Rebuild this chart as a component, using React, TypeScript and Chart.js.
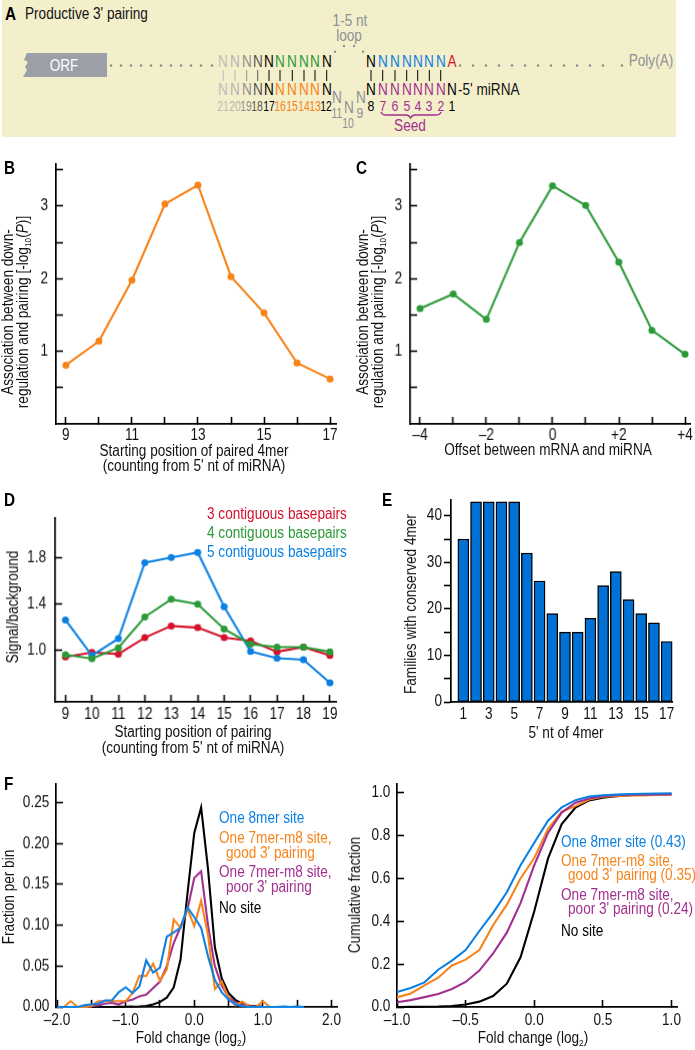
import React, { useEffect, useRef } from "react";
import { Chart, registerables } from "chart.js";

Chart.register(...registerables);

const FONT = "'Liberation Sans',Arial,sans-serif";
const NARROW = 0.85;
const ORANGE = "#f7841a";
const GREEN = "#2b9a38";
const BLUE = "#0c80e2";
const RED = "#d4122a";
const PURPLE = "#a2308f";

// Panel B
const bPositions = [9, 10, 11, 12, 13, 14, 15, 16, 17];
const bAssociation = [0.81, 1.14, 1.98, 3.03, 3.29, 2.03, 1.53, 0.84, 0.62];
const bXTicks = [9, 10, 11, 12, 13, 14, 15, 16, 17];
const bXLabels = [9, 11, 13, 15, 17];
const assocYTicks = [0.5, 1, 1.5, 2, 2.5, 3, 3.5];
const assocYLabels = [1, 2, 3];

// Panel C
const cOffsets = [-4, -3, -2, -1, 0, 1, 2, 3, 4];
const cAssociation = [1.59, 1.79, 1.44, 2.5, 3.28, 3.01, 2.23, 1.29, 0.96];
const cXLabels = [-4, -2, 0, 2, 4];

// Panel D
const dPositions = [9, 10, 11, 12, 13, 14, 15, 16, 17, 18, 19];
const dThree = [0.94, 0.98, 0.965, 1.108, 1.21, 1.195, 1.108, 1.08, 0.985, 1.026, 0.953];
const dFour = [0.96, 0.925, 1.02, 1.288, 1.442, 1.4, 1.183, 1.052, 1.026, 1.026, 0.985];
const dFive = [1.262, 0.953, 1.1, 1.76, 1.806, 1.85, 1.378, 0.988, 0.93, 0.916, 0.715];
const dYTicks = [1.0, 1.4, 1.8];

// Panel E
const eNt = [1, 2, 3, 4, 5, 6, 7, 8, 9, 10, 11, 12, 13, 14, 15, 16, 17];
const eFamilies = [35, 43, 43, 43, 43, 32, 26, 19, 15, 15, 18, 25, 28, 22, 19, 17, 13];
const eYTicks = [0, 5, 10, 15, 20, 25, 30, 35, 40];
const eYLabels = [0, 10, 20, 30, 40];
const eXLabels = [1, 3, 5, 7, 9, 11, 13, 15, 17];

// Panel F, left
const fBins = [-2, -1.9, -1.8, -1.7, -1.6, -1.5, -1.4, -1.3, -1.2, -1.1, -1, -0.9, -0.8, -0.7, -0.6, -0.5, -0.4, -0.3, -0.2, -0.1, 0, 0.1, 0.2, 0.3, 0.4, 0.5, 0.6, 0.7, 0.8, 0.9, 1, 1.1, 1.2, 1.3, 1.4, 1.5, 1.6];
const fEightmer = [0, 0, 0, 0, 0.002, 0.003, 0.004, 0.008, 0.008, 0.018, 0.024, 0.017, 0.025, 0.057, 0.042, 0.048, 0.086, 0.091, 0.097, 0.122, 0.11, 0.097, 0.062, 0.033, 0.018, 0.009, 0.003, 0.001, 0, 0, 0, 0, 0, 0.0005, 0, 0.0005, 0];
const fGood = [0, 0, 0.007, 0, 0, 0.001, 0.007, 0.007, 0.007, 0.007, 0.007, 0.017, 0.038, 0.038, 0.053, 0.032, 0.046, 0.107, 0.097, 0.12, 0.099, 0.13, 0.088, 0.022, 0.031, 0.011, 0.002, 0.0065, 0.0005, 0, 0.007, 0, 0, 0, 0, 0, 0];
const fPoor = [0, 0, 0, 0, 0, 0.001, 0.002, 0.004, 0.005, 0.003, 0.007, 0.009, 0.013, 0.015, 0.023, 0.031, 0.05, 0.078, 0.098, 0.119, 0.158, 0.166, 0.1, 0.05, 0.026, 0.012, 0.006, 0.003, 0.001, 0.0005, 0, 0, 0, 0, 0, 0, 0];
const fNone = [0, 0, 0, 0, 0, 0, 0, 0, 0, 0.0001, 0.0003, 0.0004, 0.0007, 0.0012, 0.003, 0.006, 0.0115, 0.024, 0.058, 0.138, 0.213, 0.244, 0.169, 0.073, 0.035, 0.017, 0.0085, 0.004, 0.0015, 0.001, 0.0003, 0, 0, 0, 0, 0, 0];
const fXTicks = [-2, -1.5, -1, -0.5, 0, 0.5, 1, 1.5, 2];
const fXLabels = [-2, -1, 0, 1, 2];
const fYTicks = [0, 0.05, 0.1, 0.15, 0.2, 0.25];

// Panel F, right
const gBins = [-1, -0.9, -0.8, -0.7, -0.6, -0.5, -0.4, -0.3, -0.2, -0.1, 0, 0.1, 0.2, 0.3, 0.4, 0.5, 0.6, 0.7, 0.8, 0.9, 1];
const gEightmer = [0.07, 0.089, 0.115, 0.174, 0.217, 0.266, 0.355, 0.44, 0.536, 0.662, 0.767, 0.87, 0.932, 0.966, 0.983, 0.989, 0.992, 0.995, 0.996, 0.997, 0.998];
const gGood = [0.045, 0.063, 0.101, 0.137, 0.194, 0.221, 0.266, 0.382, 0.478, 0.6, 0.696, 0.831, 0.912, 0.938, 0.969, 0.982, 0.985, 0.988, 0.988, 0.991, 0.992];
const gPoor = [0.022, 0.032, 0.046, 0.061, 0.084, 0.117, 0.17, 0.25, 0.347, 0.485, 0.662, 0.813, 0.908, 0.954, 0.974, 0.985, 0.989, 0.991, 0.992, 0.993, 0.993];
const gNone = [0, 0.0005, 0.001, 0.002, 0.005, 0.012, 0.025, 0.051, 0.109, 0.232, 0.447, 0.693, 0.854, 0.931, 0.965, 0.978, 0.985, 0.989, 0.991, 0.993, 0.995];
const gXTicks = [-1, -0.5, 0, 0.5, 1];
const gYTicks = [0, 0.2, 0.4, 0.6, 0.8, 1];

// Panel A
const topLeftColors = ["#bdbdbd", "#b5b5b5", "#8f8f8f", "#555", "#000", GREEN, GREEN, GREEN, GREEN, "#000"];
const bottomLeftColors = ["#bdbdbd", "#b5b5b5", "#8f8f8f", "#555", "#000", ORANGE, ORANGE, ORANGE, ORANGE, "#000"];
const leftNumbers = ["21", "20", "19", "18", "17", "16", "15", "14", "13", "12"];
const rightNumbers = ["8", "7", "6", "5", "4", "3", "2", "1"];
const topRight = ["#000", BLUE, BLUE, BLUE, BLUE, BLUE, BLUE, BLUE];
const bottomRight = ["#000", PURPLE, PURPLE, PURPLE, PURPLE, PURPLE, PURPLE, PURPLE];
const numberRightColors = ["#000", PURPLE, PURPLE, PURPLE, PURPLE, PURPLE, PURPLE];

const xy = (xs: number[], ys: number[]) => xs.map((x, i) => ({ x, y: ys[i] }));
const fmt = (n: number, d: number) => n.toFixed(d).replace("-", "\u2013");

type Axis = {
  min: number;
  max: number;
  ticks: number[];
  label: (v: number) => string;
  outward?: boolean;
  hideMarks?: boolean;
  pad: number;
};
type Rect = { l: number; t: number; r: number; b: number };

// The reference's labels are set in a condensed face; fillText's maxWidth condenses canvas text.
const condense = {
  id: "condense",
  beforeDraw(chart: any) {
    const c = chart.ctx;
    if (c.__condensed) return;
    c.__condensed = true;
    const fill = c.fillText.bind(c);
    c.fillText = (t: string, x: number, y: number) => fill(t, x, y, c.measureText(t).width * NARROW);
  },
};

function scaleOf(ax: Axis, fixed: number, horizontal: boolean) {
  return {
    type: "linear",
    min: ax.min,
    max: ax.max,
    offset: false,
    border: { display: true, color: "#000", width: 1.7 },
    grid: {
      display: !ax.hideMarks,
      drawOnChartArea: false,
      drawTicks: true,
      tickLength: ax.outward ? 7 : -7,
      tickColor: "#000",
      tickWidth: 1.6,
    },
    ticks: {
      color: "#111",
      font: { family: FONT, size: 16 },
      padding: ax.pad,
      autoSkip: false,
      maxRotation: 0,
      minRotation: 0,
      callback: (v: number) => ax.label(v),
    },
    afterBuildTicks: (s: any) => {
      s.ticks = ax.ticks.map((value) => ({ value }));
    },
    afterFit: (s: any) => {
      if (horizontal) s.height = fixed;
      else s.width = fixed;
      s.paddingLeft = s.paddingRight = s.paddingTop = s.paddingBottom = 0;
    },
  };
}

function Plot(props: { type: "line" | "bar"; rect: Rect; x: Axis; y: Axis; datasets: any[] }) {
  const ref = useRef<HTMLCanvasElement>(null);
  const { rect, x, y } = props;
  const box = { l: rect.l - 50, t: rect.t - 6, w: rect.r - rect.l + 62, h: rect.b - rect.t + 36 };
  useEffect(() => {
    const chart = new Chart(ref.current as HTMLCanvasElement, {
      type: props.type,
      data: { datasets: props.datasets },
      plugins: [condense],
      options: {
        animation: false,
        responsive: false,
        devicePixelRatio: 1,
        clip: false,
        layout: { padding: { top: 6, right: 12, left: 0, bottom: 0 } },
        plugins: { legend: { display: false }, tooltip: { enabled: false }, title: { display: false } },
        scales: { x: scaleOf(x, 30, true), y: scaleOf(y, 50, false) },
      },
    } as any);
    return () => chart.destroy();
  }, []);
  return (
    <canvas
      ref={ref}
      width={box.w}
      height={box.h}
      style={{ position: "absolute", left: box.l, top: box.t, width: box.w, height: box.h }}
    />
  );
}

function T(p: {
  x: number;
  y: number;
  s?: number;
  c?: string;
  a?: "s" | "m";
  r?: boolean;
  b?: boolean;
  k?: number;
  children: React.ReactNode;
}) {
  const tx = p.a === "s" ? "0" : "-50%";
  return (
    <span
      style={{
        position: "absolute",
        left: p.x,
        top: p.y,
        whiteSpace: "nowrap",
        lineHeight: 1,
        fontFamily: FONT,
        fontSize: p.s || 16,
        fontWeight: p.b ? 700 : 400,
        color: p.c || "#111",
        transformOrigin: p.a === "s" ? "left center" : "center center",
        transform: `translate(${tx},-50%)${p.r ? " rotate(-90deg)" : ""} scaleX(${p.k || NARROW})`,
      }}
    >
      {p.children}
    </span>
  );
}

const Sub = ({ children }: { children: React.ReactNode }) => (
  <span style={{ fontSize: "0.62em", verticalAlign: "-0.3em", lineHeight: 0 }}>{children}</span>
);

const PanelLetter = ({ x, y, children }: { x: number; y: number; children: string }) => (
  <T x={x} y={y} a="s" s={18} b c="#000">
    {children}
  </T>
);

const leftX = [223.3, 235, 246.7, 257.7, 269, 280, 292.3, 304, 315, 326.7];
const rightX = [371, 382.7, 395, 406.7, 417.7, 429.3, 440.7, 451.7];
const dotsLeft = [111, 121, 131, 141, 151, 161, 171, 181, 191, 201, 212];
const dotsRight = [460, 473, 486, 499, 512, 525, 538, 551, 564, 577, 590, 603, 622];
const NUM_K = 0.72;

function PanelA() {
  const G = "#8d9196";
  return (
    <>
      <div style={{ position: "absolute", left: 2, top: 0, width: 674, height: 137, background: "#f4efcb" }} />
      <svg width={695} height={140} style={{ position: "absolute", left: 0, top: 0 }}>
        <polygon points="27,53 107,53 107,77 23,77 27,70 25,67 28,62 24,60" fill="#9a9fa8" />
        {[...dotsLeft, ...dotsRight].map((d) => (
          <circle key={d} cx={d} cy={65.5} r={1.2} fill="#8a8a8a" />
        ))}
        {[[335, 51.7], [344, 46], [354, 46], [363, 51.7]].map(([cx, cy]) => (
          <circle key={cx} cx={cx} cy={cy} r={1.2} fill={G} />
        ))}
        {leftX.map((x, i) => (
          <line key={x} x1={x} x2={x} y1={70} y2={81} stroke={topLeftColors[i] === GREEN ? "#000" : topLeftColors[i]} strokeWidth={1} />
        ))}
        {rightX.slice(0, 7).map((x) => (
          <line key={x} x1={x} x2={x} y1={70} y2={81} stroke="#000" strokeWidth={1} />
        ))}
        <path d="M381 112 Q382 115 386 115 L406 115 Q409 115 410.5 118 Q412 115 415 115 L436 115 Q440 115 441 112" fill="none" stroke={PURPLE} strokeWidth={1.3} />
      </svg>
      <PanelLetter x={5} y={14}>A</PanelLetter>
      <T x={25} y={14} a="s" s={16}>Productive 3' pairing</T>
      <T x={64} y={66} s={16} c="#fff">ORF</T>
      <T x={350} y={21} s={16} c={G}>1-5 nt</T>
      <T x={349} y={36} s={16} c={G}>loop</T>
      <T x={651} y={61} s={16} c={G}>Poly(A)</T>
      {leftX.map((x, i) => (
        <React.Fragment key={x}>
          <T x={x} y={62} c={topLeftColors[i]}>N</T>
          <T x={x} y={90} c={bottomLeftColors[i]}>N</T>
          <T x={x - 0.5} y={106} s={14.5} k={NUM_K} c={bottomLeftColors[i]}>{leftNumbers[i]}</T>
        </React.Fragment>
      ))}
      {rightX.map((x, i) => (
        <React.Fragment key={x}>
          <T x={x} y={62} c={i === 7 ? RED : topRight[i]}>{i === 7 ? "A" : "N"}</T>
          <T x={x} y={90} c={i === 7 ? "#000" : bottomRight[i]}>N</T>
          <T x={x} y={106} s={14.5} c={i === 7 ? "#000" : numberRightColors[i]}>{rightNumbers[i]}</T>
        </React.Fragment>
      ))}
      <T x={458} y={90} a="s">-5' miRNA</T>
      <T x={336.7} y={98} c={G}>N</T>
      <T x={337} y={113} s={14.5} k={NUM_K} c={G}>11</T>
      <T x={349} y={108} c={G}>N</T>
      <T x={347.7} y={123} s={14.5} k={NUM_K} c={G}>10</T>
      <T x={360.7} y={98} c={G}>N</T>
      <T x={360.3} y={113} s={14.5} c={G}>9</T>
      <T x={410} y={126} c={PURPLE}>Seed</T>
    </>
  );
}

const lineDs = (data: any, color: string, point = true) => ({
  data,
  borderColor: color,
  backgroundColor: color,
  borderWidth: 2.1,
  tension: 0,
  pointRadius: point ? 3.5 : 0,
  pointBorderWidth: 0,
  pointBackgroundColor: color,
});

const signed = (v: number) => (v > 0 ? `+${v}` : v < 0 ? `\u2013${-v}` : "0");

export default function App() {
  const assocY: Axis = {
    min: 0,
    max: 3.58,
    ticks: assocYTicks,
    label: (v) => (assocYLabels.includes(v) ? String(v) : ""),
    pad: 15,
  };
  return (
    <div style={{ position: "absolute", left: 0, top: 0, width: 695, height: 1050, background: "#fff", overflow: "hidden" }}>
      <PanelA />

      <Plot
        type="line"
        rect={{ l: 55.7, t: 164, r: 336, b: 423.5 }}
        x={{ min: 8.7, max: 17.18, ticks: bXTicks, label: (v) => (bXLabels.includes(v) ? String(v) : ""), pad: 9 }}
        y={assocY}
        datasets={[lineDs(xy(bPositions, bAssociation), ORANGE)]}
      />
      <PanelLetter x={4} y={168}>B</PanelLetter>
      <T x={7.5} y={312} r>Association between down-</T>
      <T x={22.7} y={312} r>regulation and pairing [-log<Sub>10</Sub>(<i>P</i>)]</T>
      <T x={194} y={451}>Starting position of paired 4mer</T>
      <T x={194} y={466}>(counting from 5' nt of miRNA)</T>

      <Plot
        type="line"
        rect={{ l: 410.3, t: 164, r: 690, b: 423.5 }}
        x={{ min: -4.3, max: 4.15, ticks: cOffsets, label: (v) => (cXLabels.includes(v) ? signed(v) : ""), pad: 9 }}
        y={assocY}
        datasets={[lineDs(xy(cOffsets, cAssociation), GREEN)]}
      />
      <PanelLetter x={356} y={168}>C</PanelLetter>
      <T x={363} y={312} r>Association between down-</T>
      <T x={378} y={312} r>regulation and pairing [-log<Sub>10</Sub>(<i>P</i>)]</T>
      <T x={548} y={450}>Offset between mRNA and miRNA</T>

      <Plot
        type="line"
        rect={{ l: 55.3, t: 518, r: 336, b: 701.7 }}
        x={{ min: 8.61, max: 19.23, ticks: dPositions, label: (v) => String(v), pad: 10 }}
        y={{ min: 0.549, max: 2.149, ticks: dYTicks, label: (v) => fmt(v, 1), pad: 16 }}
        datasets={[
          lineDs(xy(dPositions, dFour), GREEN),
          lineDs(xy(dPositions, dFive), BLUE),
          lineDs(xy(dPositions, dThree), RED),
        ]}
      />
      <PanelLetter x={4} y={500}>D</PanelLetter>
      <T x={13} y={606.5} r>Signal/background</T>
      <T x={193} y={732}>Starting position of pairing</T>
      <T x={193} y={748}>(counting from 5' nt of miRNA)</T>
      <T x={207} y={514} a="s" c={RED}>3 contiguous basepairs</T>
      <T x={207} y={533} a="s" c={GREEN}>4 contiguous basepairs</T>
      <T x={207} y={552} a="s" c={BLUE}>5 contiguous basepairs</T>

      <Plot
        type="bar"
        rect={{ l: 451, t: 500, r: 672.3, b: 702 }}
        x={{ min: 0.03, max: 17.42, ticks: eNt, label: (v) => (eXLabels.includes(v) ? String(v) : ""), hideMarks: true, pad: 10 }}
        y={{ min: 0, max: 43.4, ticks: eYTicks, label: (v) => (eYLabels.includes(v) ? String(v) : ""), outward: true, pad: 2 }}
        datasets={[
          {
            data: xy(eNt, eFamilies),
            backgroundColor: "#0072d6",
            borderColor: "#000",
            borderWidth: 1.4,
            borderSkipped: false,
            barThickness: 11,
          },
        ]}
      />
      <PanelLetter x={382} y={500}>E</PanelLetter>
      <T x={410.7} y={604} r>Families with conserved 4mer</T>
      <T x={566} y={733}>5' nt of 4mer</T>

      <Plot
        type="line"
        rect={{ l: 55.7, t: 784, r: 336.7, b: 1006.7 }}
        x={{ min: -2.015, max: 2.08, ticks: fXTicks, label: (v) => (fXLabels.includes(v) ? fmt(v, 1) : ""), pad: 11 }}
        y={{ min: 0, max: 0.2728, ticks: fYTicks, label: (v) => v.toFixed(2), pad: 13.7 }}
        datasets={[
          lineDs(xy(fBins, fEightmer), BLUE, false),
          lineDs(xy(fBins, fGood), ORANGE, false),
          lineDs(xy(fBins, fPoor), PURPLE, false),
          lineDs(xy(fBins, fNone), "#000", false),
        ]}
      />
      <PanelLetter x={4} y={784}>F</PanelLetter>
      <T x={9.3} y={897} r>Fraction per bin</T>
      <T x={191} y={1038}>Fold change (log<Sub>2</Sub>)</T>
      <T x={219} y={818} a="s" c={BLUE}>One 8mer site</T>
      <T x={219} y={838} a="s" c={ORANGE}>One 7mer-m8 site,</T>
      <T x={226} y={853} a="s" c={ORANGE}>good 3' pairing</T>
      <T x={219} y={872} a="s" c={PURPLE}>One 7mer-m8 site,</T>
      <T x={226} y={887} a="s" c={PURPLE}>poor 3' pairing</T>
      <T x={219} y={908} a="s" c="#000">No site</T>

      <Plot
        type="line"
        rect={{ l: 396.7, t: 784, r: 677.3, b: 1007 }}
        x={{ min: -1, max: 1.04, ticks: gXTicks, label: (v) => fmt(v, 1), pad: 11 }}
        y={{ min: 0, max: 1.0415, ticks: gYTicks, label: (v) => v.toFixed(1), pad: 13.7 }}
        datasets={[
          lineDs(xy(gBins, gEightmer), BLUE, false),
          lineDs(xy(gBins, gPoor), PURPLE, false),
          lineDs(xy(gBins, gGood), ORANGE, false),
          lineDs(xy(gBins, gNone), "#000", false),
        ]}
      />
      <T x={355} y={895} r>Cumulative fraction</T>
      <T x={532.5} y={1038}>Fold change (log<Sub>2</Sub>)</T>
      <T x={561} y={842} a="s" c={BLUE}>One 8mer site (0.43)</T>
      <T x={561} y={861} a="s" c={ORANGE}>One 7mer-m8 site,</T>
      <T x={568} y={875} a="s" c={ORANGE}>good 3' pairing (0.35)</T>
      <T x={561} y={895} a="s" c={PURPLE}>One 7mer-m8 site,</T>
      <T x={568} y={909} a="s" c={PURPLE}>poor 3' pairing (0.24)</T>
      <T x={561} y={931} a="s" c="#000">No site</T>
    </div>
  );
}
